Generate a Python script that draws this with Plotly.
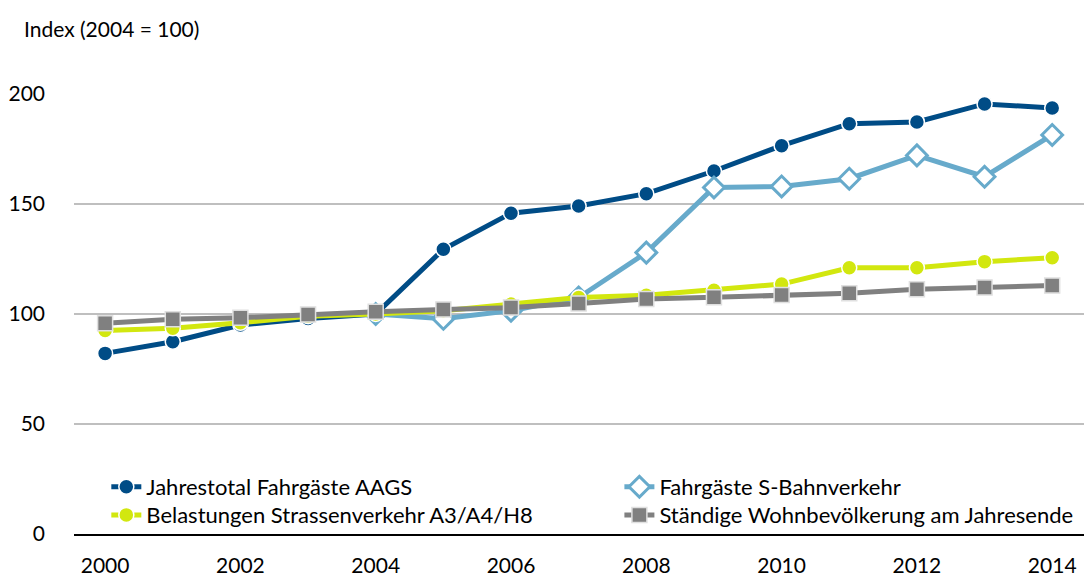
import plotly.graph_objects as go

years = list(range(2000, 2015))
aags = [82.1, 87.4, 95.0, 98.0, 100.0, 129.4, 145.8, 149.1, 154.7, 165.0, 176.5, 186.5, 187.3, 195.5, 193.6]
sbahn_years = list(range(2004, 2015))
sbahn = [100.0, 97.8, 101.5, 107.5, 127.9, 157.5, 158.0, 161.5, 172.1, 162.4, 181.4]
strasse = [92.5, 93.5, 96.0, 99.0, 100.0, 101.5, 104.5, 107.5, 108.5, 110.8, 113.6, 121.0, 121.0, 123.8, 125.6]
wohn = [95.8, 97.6, 98.3, 99.8, 101.0, 102.1, 102.9, 104.8, 106.8, 107.6, 108.6, 109.4, 111.2, 112.1, 112.9]

names = ["Jahrestotal Fahrgäste AAGS", "Fahrgäste S-Bahnverkehr",
         "Belastungen Strassenverkehr A3/A4/H8", "Ständige Wohnbevölkerung am Jahresende"]

FONT = "Lato"
fig = go.Figure()
fig.add_trace(go.Scatter(x=years, y=aags, name=names[0], mode="lines+markers",
                         line=dict(color="#004C86", width=5),
                         marker=dict(symbol="circle", size=15, color="#004C86",
                                     line=dict(color="white", width=1.5)),
                         legend="legend"))
fig.add_trace(go.Scatter(x=sbahn_years, y=sbahn, name=names[1], mode="lines+markers",
                         line=dict(color="#67AACB", width=5),
                         marker=dict(symbol="diamond", size=16, color="white",
                                     line=dict(color="#67AACB", width=3)),
                         legend="legend2"))
fig.add_trace(go.Scatter(x=years, y=strasse, name=names[2], mode="lines+markers",
                         line=dict(color="#D2E70F", width=5),
                         marker=dict(symbol="circle", size=15, color="#D2E70F",
                                     line=dict(color="white", width=1.5)),
                         legend="legend3"))
fig.add_trace(go.Scatter(x=years, y=wohn, name=names[3], mode="lines+markers",
                         line=dict(color="#808080", width=5),
                         marker=dict(symbol="square", size=15, color="#808080",
                                     line=dict(color="#E0E0E0", width=1.5)),
                         legend="legend4"))

leg_common = dict(orientation="v", bgcolor="rgba(0,0,0,0)", borderwidth=0,
                  font=dict(family=FONT, size=22, color="#000000"),
                  xanchor="left", yanchor="middle", itemwidth=30)

fig.update_layout(
    width=1084, height=577,
    margin=dict(l=74, r=0, t=94, b=43),
    paper_bgcolor="white", plot_bgcolor="white",
    font=dict(family=FONT, size=21, color="#000000"),
    showlegend=True,
    legend=dict(x=0.032, y=0.107, **leg_common),
    legend2=dict(x=0.540, y=0.107, **leg_common),
    legend3=dict(x=0.032, y=0.043, **leg_common),
    legend4=dict(x=0.540, y=0.043, **leg_common),
    xaxis=dict(range=[1999.54, 2014.47], tickmode="array",
               tickvals=list(range(2000, 2015, 2)),
               ticktext=[str(v) for v in range(2000, 2015, 2)],
               showgrid=False, zeroline=False, automargin=False,
               showline=True, linecolor="#000000", linewidth=2,
               ticks="", ticklabelstandoff=12,
               tickfont=dict(family=FONT, size=21, color="#000000")),
    yaxis=dict(range=[0, 200], tickvals=[0, 50, 100, 150, 200],
               showgrid=True, gridcolor="#BFBFBF", gridwidth=2,
               zeroline=False, showline=False, ticks="", automargin=False,
               ticklabelstandoff=28,
               tickfont=dict(family=FONT, size=21, color="#000000")),
    annotations=[dict(text="Index (2004 = 100)", xref="paper", yref="paper",
                      x=-0.0515, y=1.15, xanchor="left", yanchor="middle",
                      showarrow=False, font=dict(family=FONT, size=21, color="#000000"))],
)
for tr in fig.data:
    tr.cliponaxis = False

fig.write_html("out.html", config={"displayModeBar": False},
               post_script="document.body.style.margin='0';")
